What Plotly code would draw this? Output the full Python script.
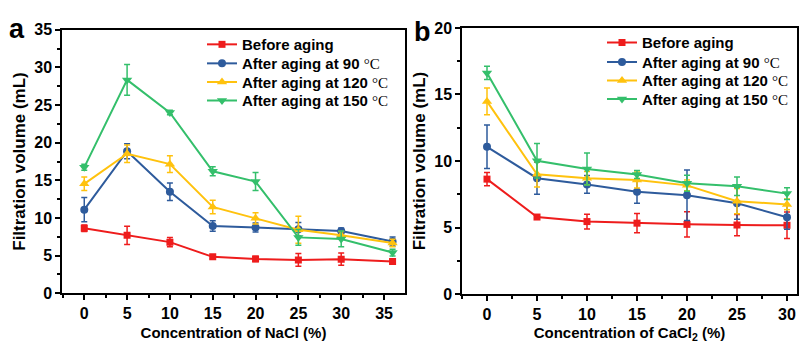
import plotly.graph_objects as go

# ---------------- data ----------------
nacl_x = [0, 5, 10, 15, 20, 25, 30, 36]
nacl_before = [8.63, 7.68, 6.78, 4.82, 4.55, 4.42, 4.52, 4.2]
nacl_before_err = [0.42, 1.2, 0.62, 0.25, 0.35, 0.85, 0.8, 0.3]
nacl_90 = [11.1, 18.87, 13.48, 8.93, 8.72, 8.5, 8.25, 6.87]
nacl_90_err = [1.6, 1.0, 1.15, 0.7, 0.6, 0.9, 0.4, 0.6]
nacl_120 = [14.53, 18.53, 17.15, 11.46, 9.94, 8.42, 7.7, 6.66]
nacl_120_err = [0.9, 1.15, 1.1, 0.9, 0.75, 1.8, 0.5, 0.5]
nacl_150 = [16.72, 28.35, 24.0, 16.2, 14.83, 7.41, 7.2, 5.39]
nacl_150_err = [0.4, 2.05, 0.3, 0.6, 1.2, 1.05, 1.05, 0.45]

cacl_x = [0, 5, 10, 15, 20, 25, 30]
cacl_before = [8.64, 5.79, 5.45, 5.33, 5.24, 5.19, 5.17]
cacl_before_err = [0.5, 0.1, 0.55, 0.72, 0.95, 0.8, 1.0]
cacl_90 = [11.07, 8.71, 8.24, 7.69, 7.43, 6.83, 5.77]
cacl_90_err = [1.64, 1.2, 0.67, 0.87, 1.9, 1.2, 0.9]
cacl_120 = [14.48, 9.0, 8.71, 8.57, 8.17, 6.98, 6.74]
cacl_120_err = [1.0, 0.95, 0.5, 0.6, 0.4, 0.95, 0.4]
cacl_150 = [16.62, 10.02, 9.4, 8.98, 8.33, 8.1, 7.55]
cacl_150_err = [0.5, 1.3, 1.2, 0.3, 0.6, 0.7, 0.45]

deg = "<span style='font-family:Liberation Serif;font-weight:normal'>°C</span>"
names = ["Before aging", "After aging at 90 " + deg,
         "After aging at 120 " + deg, "After aging at 150 " + deg]
colors = ["#EE1C1C", "#2E5B9C", "#FFC20E", "#34BF6B"]
symbols = ["square", "circle", "triangle-up", "triangle-down"]
sizes = [7, 8, 9, 9]

W, H = 801, 343
FAM = "Arial, Liberation Sans"

fig = go.Figure()

# one legend per entry so the entry spacing matches the original
legend_ids_a = ["legend", "legend2", "legend3", "legend4"]
legend_ids_b = ["legend5", "legend6", "legend7", "legend8"]
legend_y_a = [38.5, 58.5, 78, 97.5]
legend_y_b = [36.5, 57, 76.5, 96]

panels = [
    (nacl_x, [nacl_before, nacl_90, nacl_120, nacl_150],
     [nacl_before_err, nacl_90_err, nacl_120_err, nacl_150_err], "x", "y", legend_ids_a),
    (cacl_x, [cacl_before, cacl_90, cacl_120, cacl_150],
     [cacl_before_err, cacl_90_err, cacl_120_err, cacl_150_err], "x2", "y2", legend_ids_b),
]
for xs, series, errs, xa, ya, lgs in panels:
    for i in range(4):
        fig.add_trace(go.Scatter(
            x=xs, y=series[i], name=names[i], mode="lines+markers",
            xaxis=xa, yaxis=ya, legend=lgs[i], showlegend=True,
            line=dict(color=colors[i], width=2),
            marker=dict(symbol=symbols[i], size=sizes[i], color=colors[i]),
            error_y=dict(type="data", array=errs[i], visible=True,
                         color=colors[i], thickness=1.5, width=3),
        ))

font = dict(family=FAM, size=14, color="black")

def axis_common():
    return dict(showline=True, mirror=True, linecolor="black", linewidth=1.5,
                ticks="outside", ticklen=5, tickwidth=1.5, tickcolor="black",
                showgrid=False, zeroline=False,
                tickfont=dict(family=FAM, size=16, color="black", weight="bold"))

minor = dict(ticks="outside", ticklen=3, tickwidth=1.5, dtick=2.5, tick0=0, tickcolor="black")

xa = axis_common()
xa.update(domain=[62 / W, 405 / W], range=[-2.6, 37.45], tickvals=[0, 5, 10, 15, 20, 25, 30, 35],
          minor=minor,
          title=dict(text="<b>Concentration of NaCl (%)</b>", font=dict(size=15), standoff=6),
          anchor="y")
ya = axis_common()
ya.update(domain=[43 / H, 320 / H], range=[0, 35], tickvals=[0, 5, 10, 15, 20, 25, 30, 35],
          minor=minor,
          title=dict(text="<b>Filtration volume (mL)</b>", font=dict(size=17), standoff=4),
          anchor="x")
xb = axis_common()
xb.update(domain=[462 / W, 797 / W], range=[-2.5, 31], tickvals=[0, 5, 10, 15, 20, 25, 30],
          minor=minor,
          title=dict(text="<b>Concentration of CaCl<sub>2</sub> (%)</b>", font=dict(size=15), standoff=6),
          anchor="y2")
yb = axis_common()
yb.update(domain=[42 / H, 322 / H], range=[0, 20], tickvals=[0, 5, 10, 15, 20],
          minor=minor,
          title=dict(text="<b>Filtration volume (mL)</b>", font=dict(size=17), standoff=4),
          anchor="x2")

legfont = dict(family=FAM, size=15, color="black", weight="bold")
layout_legends = {}
for lid, yy in zip(legend_ids_a, legend_y_a):
    layout_legends[lid] = dict(x=202 / W, y=1 - yy / H, xanchor="left", yanchor="middle",
                               bgcolor="rgba(0,0,0,0)", font=legfont, visible=True)
for lid, yy in zip(legend_ids_b, legend_y_b):
    layout_legends[lid] = dict(x=602 / W, y=1 - yy / H, xanchor="left", yanchor="middle",
                               bgcolor="rgba(0,0,0,0)", font=legfont, visible=True)

fig.update_layout(
    width=W, height=H, margin=dict(l=0, r=0, t=0, b=0),
    paper_bgcolor="white", plot_bgcolor="white", font=font, showlegend=True,
    xaxis=xa, yaxis=ya, xaxis2=xb, yaxis2=yb,
    annotations=[
        dict(text="<b>a</b>", x=17 / W, y=1 - 22 / H, xref="paper", yref="paper",
             xanchor="center", yanchor="middle",
             showarrow=False, font=dict(size=27, family=FAM, color="black")),
        dict(text="<b>b</b>", x=423 / W, y=1 - 25 / H, xref="paper", yref="paper",
             xanchor="center", yanchor="middle",
             showarrow=False, font=dict(size=27, family=FAM, color="black")),
    ],
    **layout_legends,
)

fig.write_html("out.html")
